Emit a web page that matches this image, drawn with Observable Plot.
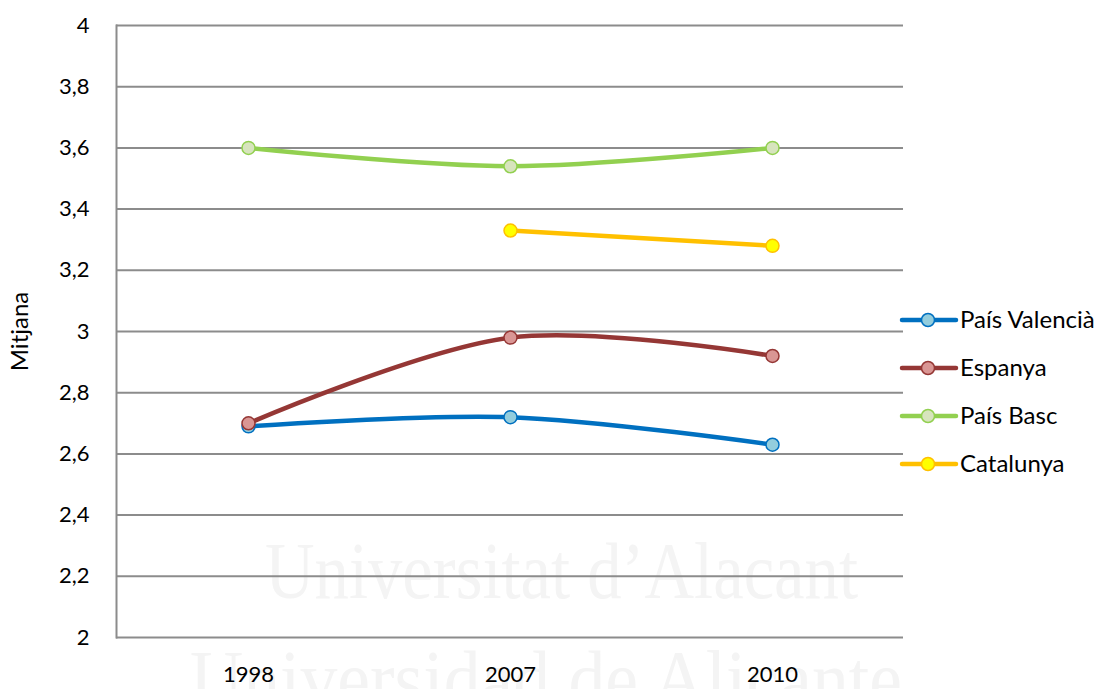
<!DOCTYPE html>
<html>
<head>
<meta charset="utf-8">
<script src="https://cdn.jsdelivr.net/npm/d3@7"></script>
<script src="https://cdn.jsdelivr.net/npm/@observablehq/plot@0.6"></script>
<style>
  html, body { margin: 0; padding: 0; background: #fff; }
  #wrap { position: relative; width: 1100px; height: 689px; overflow: hidden; font-family: Lato, "Open Sans", sans-serif; }
  #wm { position: absolute; left: 0; top: 0; }
  #chart { position: absolute; left: 0; top: 0; }
  #legend { position: absolute; left: 0; top: 0; }
</style>
</head>
<body>
<div id="wrap">
  <svg id="wm" width="1100" height="689"></svg>
  <div id="chart"></div>
  <svg id="legend" width="1100" height="689"></svg>
</div>
<script>
// ---- data ----
const years = ["1998", "2007", "2010"];
const seriesNames = ["País Valencià", "Espanya", "País Basc", "Catalunya"];
const valencia  = [2.69, 2.72, 2.63];
const espanya   = [2.70, 2.98, 2.92];
const basc      = [3.60, 3.54, 3.60];
const catalunya = [null, 3.33, 3.28];
const yTicks = [2, 2.2, 2.4, 2.6, 2.8, 3, 3.2, 3.4, 3.6, 3.8, 4];
const lineColors   = ["#0070C0", "#953735", "#92D050", "#FFC000"];
const markerFills  = ["#93CDDD", "#D99694", "#D7E4BD", "#FFFF00"];
const markerStroke = ["#0070C0", "#953735", "#92D050", "#FFC000"];
const watermark = ["Universitat d’Alacant", "Universidad de Alicante"];

const valuesBySeries = [valencia, espanya, basc, catalunya];
const rows = [];
seriesNames.forEach((s, i) => {
  valuesBySeries[i].forEach((v, j) => {
    if (v != null) rows.push({series: s, year: years[j], value: v, idx: i});
  });
});

// ---- watermark (faint) ----
const wm = d3.select("#wm");
wm.append("text").attr("x", 265).attr("y", 598).attr("textLength", 593).attr("lengthAdjust", "spacingAndGlyphs")
  .attr("font-family", "Liberation Serif").attr("font-size", 80).attr("fill", "#f4f4f4").text(watermark[0]);
wm.append("text").attr("x", 190).attr("y", 706).attr("textLength", 712).attr("lengthAdjust", "spacingAndGlyphs")
  .attr("font-family", "Liberation Serif").attr("font-size", 80).attr("fill", "#f4f4f4").text(watermark[1]);

// ---- chart ----
const marks = [
  Plot.ruleY(yTicks, {stroke: "#8c8c8c", strokeWidth: 2}),
  Plot.frame({anchor: "left", stroke: "#8c8c8c", strokeWidth: 2}),
  Plot.axisY({ticks: yTicks, tickSize: 0, tickPadding: 27, fontSize: 22,
    tickFormat: d => String(d).replace(".", ","), label: null}),
  Plot.axisY({ticks: [], tickSize: 0, fontSize: 24,
    label: "Mitjana", labelAnchor: "center", labelArrow: "none", labelOffset: 106}),
  Plot.axisX({tickSize: 0, tickPadding: 29, fontSize: 22, label: null})
];
seriesNames.forEach((s, i) => {
  const data = rows.filter(r => r.series === s);
  marks.push(Plot.line(data, {x: "year", y: "value", stroke: lineColors[i], strokeWidth: 4.5, curve: "catmull-rom"}));
  marks.push(Plot.dot(data, {x: "year", y: "value", r: 6.5, fill: markerFills[i], stroke: markerStroke[i], strokeWidth: 1.5}));
});

const chart = Plot.plot({
  width: 1100,
  height: 689,
  marginLeft: 116,
  marginRight: 197,
  marginTop: 25,
  marginBottom: 52,
  style: {background: "transparent", fontFamily: "Lato, 'Open Sans', sans-serif", color: "#000"},
  x: {type: "band", domain: years, padding: 0},
  y: {domain: [2, 4]},
  marks
});
document.getElementById("chart").appendChild(chart);

// ---- legend ----
const lg = d3.select("#legend");
const rowY = [320, 368, 416, 464];
seriesNames.forEach((s, i) => {
  const g = lg.append("g").attr("transform", `translate(0,${rowY[i]})`);
  g.append("line").attr("x1", 902).attr("x2", 956).attr("y1", 0).attr("y2", 0)
    .attr("stroke", lineColors[i]).attr("stroke-width", 4.5).attr("stroke-linecap", "round");
  g.append("circle").attr("cx", 928).attr("cy", 0).attr("r", 6.5)
    .attr("fill", markerFills[i]).attr("stroke", markerStroke[i]).attr("stroke-width", 1.5);
  g.append("text").attr("x", 960).attr("y", 0).attr("dy", "0.35em")
    .attr("font-family", "Lato, 'Open Sans', sans-serif").attr("font-size", 24).attr("fill", "#000").text(s);
});
</script>
</body>
</html>
